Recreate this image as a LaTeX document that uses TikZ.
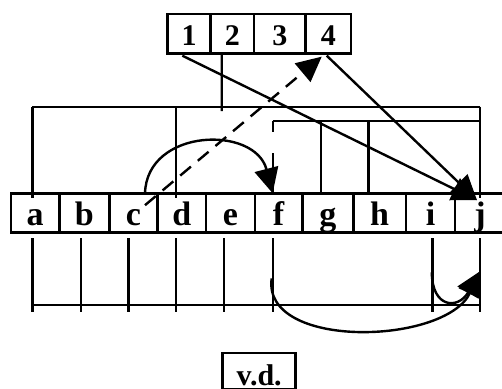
\documentclass[tikz,border=0pt]{standalone}
\usepackage{fontspec}
\setmainfont{Liberation Serif}
\usetikzlibrary{arrows.meta,calc}

\begin{document}
\begin{tikzpicture}[x=1pt,y=-1pt,
  cell/.style={draw, line width=2.8pt, inner sep=0pt, outer sep=0pt,
    minimum height=39.2pt, text height=26pt, text depth=0pt,
    font=\bfseries\fontsize{34}{34}\selectfont},
  numcell/.style={cell, text height=24pt,
    font=\bfseries\fontsize{30}{30}\selectfont},
  link/.style={line width=2.4pt},
  tip/.style={-{Triangle[length=25pt,width=24pt]}},
  dashlink/.style={link, dash pattern=on 14pt off 9pt},
]
\useasboundingbox (0,0) rectangle (502,388);
\clip (0,0) rectangle (502,388);

% index box
\node[numcell, minimum width=43pt]   (n1) at (189.2,33.65)  {1};
\node[numcell, minimum width=43.3pt] (n2) at (232.35,33.65) {2};
\node[numcell, minimum width=51.7pt] (n3) at (279.85,33.65) {3};
\node[numcell, minimum width=45.3pt] (n4) at (328.35,33.65) {4};

% row of cells a..j
\node[cell, minimum width=48.3pt] (a) at (35.15,212.8) {a};
\node[cell, minimum width=50pt]   (b) at (84.3,212.8)  {b};
\node[cell, minimum width=48.4pt] (c) at (133.5,212.8) {c};
\node[cell, minimum width=48.3pt] (d) at (181.85,212.8) {d};
\node[cell, minimum width=49pt]   (e) at (230.5,212.8) {e};
\node[cell, minimum width=47.3pt] (f) at (278.65,212.8) {f};
\node[cell, minimum width=51pt]   (g) at (327.8,212.8) {g};
\node[cell, minimum width=52.7pt] (h) at (379.65,212.8) {h};
\node[cell, minimum width=49pt]   (i) at (430.5,212.8) {i};
\node[cell, minimum width=50pt]   (j) at (480,212.8)   {j};

% label box, its lower edge runs past the page
\node[numcell, minimum width=73pt, minimum height=36.5pt, text height=27.5pt] (vd) at (259.2,371.25) {v.d.};

% upper bus
\coordinate (busL) at (32.3,106.7);
\coordinate (busD) at (176,106.7);
\coordinate (busR) at (480,106.7);
\coordinate (stem) at (221.7,111);
\draw[link] (busL) -- (busR);
\draw[link] (busL) -- ($(busL |- a.north)+(0,5)$);
\draw[link] (busD) -- ($(busD |- d.north)+(0,5)$);
\draw[link] (busR) -- ($(busR |- j.north)+(0,5)$);
\draw[link] ($(n2.south)+(-10.65,0)$) -- (stem);

% second bus
\coordinate (bus2L) at (272.7,121);
\coordinate (bus2G) at (320.7,121);
\coordinate (bus2H) at (368.3,121);
\coordinate (bus2R) at (480,121);
\draw[link] (bus2L) -- (bus2R);
\draw[link] (bus2L) -- ($(bus2L)+(0,11)$);
\draw[link] ($(bus2L)+(0,32)$) -- (bus2L |- f.north);
\draw[link] (bus2G) -- (bus2G |- g.north);
\draw[link] (bus2H) -- (bus2H |- h.north);

% arrows from the index box
\draw[link,tip] ($(n1.south)+(-6.9,2.4)$) -- ($(j.north)+(-3,7)$);
\draw[link,tip] ($(n4.south)+(-1.65,2.4)$) -- ($(j.north)+(-3,7)$);
\draw[dashlink,tip] ($(c.north)+(11.5,12)$) -- ($(n4.south)+(-6.65,3.4)$);
\draw[link,tip] ($(c.north)+(11.5,0)$) .. controls (147,128) and (255,125) .. ($(f.north)+(-6,0)$);

% lower bus
\foreach \n/\dx in {a/-2.85, b/-3.6, c/-5.2, d/-5.85, e/-6.5, f/-5.95, i/1.8, j/0}
  \draw[link] ($(\n.south)+(\dx,6)$) -- ($(\n.south)+(\dx,79.4)$);
\draw[link] ($(a.south)+(-2.85,72.7)$) -- ($(j.south)+(0,72.7)$);

% curved arrows below the row
\coordinate (jlow) at (480.5,271);
\draw[link,tip] ($(f.south)+(-7,46)$) .. controls (262,350) and (445,345) .. (jlow);
\draw[link,tip] ($(i.south)+(1.3,40)$) .. controls (432,308) and (458,310) .. (jlow);
\end{tikzpicture}
\end{document}
